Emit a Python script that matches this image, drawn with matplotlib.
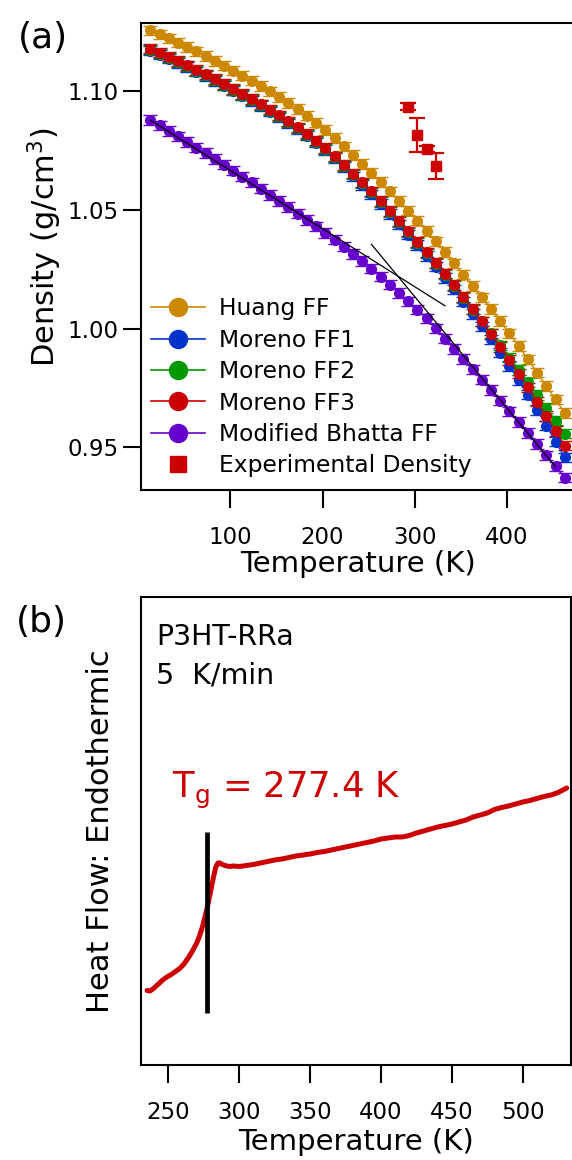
import matplotlib
matplotlib.use("Agg")
import matplotlib.pyplot as plt
from matplotlib.lines import Line2D

# ---- (a) simulated densities vs temperature ----
temperature = [13, 23, 33, 43, 53, 63, 73, 83, 93, 103, 113, 123, 133, 143, 153,
               163, 173, 183, 193, 203, 213, 223, 233, 243, 253, 263, 273, 283, 293,
               303, 313, 323, 333, 343, 353, 363, 373, 383, 393, 403, 413, 423, 433,
               443, 453, 463]

huang = [1.1255, 1.1238, 1.1221, 1.1203, 1.1185, 1.1166, 1.1147, 1.1127, 1.1107, 1.1086,
         1.1065, 1.1043, 1.1021, 1.0998, 1.0974, 1.0949, 1.0923, 1.0896, 1.0867, 1.0835,
         1.0801, 1.0767, 1.0730, 1.0692, 1.0654, 1.0616, 1.0577, 1.0537, 1.0496, 1.0454,
         1.0411, 1.0367, 1.0322, 1.0275, 1.0227, 1.0179, 1.0131, 1.0082, 1.0032, 0.9980,
         0.9926, 0.9871, 0.9815, 0.9759, 0.9702, 0.9645]

moreno_ff1 = [1.1170, 1.1153, 1.1136, 1.1118, 1.1100, 1.1081, 1.1062, 1.1042, 1.1022, 1.1001,
              1.0980, 1.0958, 1.0936, 1.0913, 1.0889, 1.0864, 1.0839, 1.0812, 1.0783, 1.0751,
              1.0717, 1.0679, 1.0641, 1.0604, 1.0565, 1.0525, 1.0482, 1.0439, 1.0395, 1.0351,
              1.0306, 1.0261, 1.0214, 1.0165, 1.0114, 1.0062, 1.0009, 0.9955, 0.9899, 0.9842,
              0.9783, 0.9722, 0.9658, 0.9592, 0.9525, 0.9458]

moreno_ff2 = [1.1174, 1.1157, 1.1140, 1.1122, 1.1104, 1.1085, 1.1066, 1.1046, 1.1026, 1.1005,
              1.0984, 1.0962, 1.0940, 1.0917, 1.0893, 1.0868, 1.0843, 1.0816, 1.0787, 1.0755,
              1.0721, 1.0685, 1.0648, 1.0611, 1.0573, 1.0533, 1.0491, 1.0448, 1.0405, 1.0361,
              1.0317, 1.0273, 1.0227, 1.0179, 1.0129, 1.0080, 1.0030, 0.9980, 0.9929, 0.9878,
              0.9826, 0.9774, 0.9721, 0.9667, 0.9613, 0.9558]

moreno_ff3 = [1.1178, 1.1161, 1.1144, 1.1126, 1.1108, 1.1089, 1.1070, 1.1050, 1.1030, 1.1009,
              1.0988, 1.0966, 1.0944, 1.0921, 1.0897, 1.0872, 1.0847, 1.0820, 1.0791, 1.0759,
              1.0725, 1.0689, 1.0652, 1.0615, 1.0577, 1.0537, 1.0495, 1.0452, 1.0409, 1.0365,
              1.0321, 1.0277, 1.0231, 1.0183, 1.0133, 1.0082, 1.0030, 0.9977, 0.9923, 0.9868,
              0.9811, 0.9753, 0.9693, 0.9632, 0.9570, 0.9508]

mod_bhatta = [1.0878, 1.0855, 1.0832, 1.0809, 1.0785, 1.0762, 1.0738, 1.0714, 1.0690, 1.0665,
              1.0640, 1.0615, 1.0589, 1.0563, 1.0537, 1.0511, 1.0484, 1.0457, 1.0430, 1.0402,
              1.0374, 1.0345, 1.0315, 1.0284, 1.0252, 1.0219, 1.0185, 1.0150, 1.0115, 1.0080,
              1.0043, 1.0001, 0.9958, 0.9915, 0.9872, 0.9829, 0.9785, 0.9741, 0.9697, 0.9652,
              0.9607, 0.9561, 0.9514, 0.9467, 0.9420, 0.9373]

sim_err = 0.002

exp_temperature = [293, 303, 313, 323]
exp_density = [1.0933, 1.0815, 1.0756, 1.0684]
exp_err = [0.0015, 0.0070, 0.0012, 0.0053]

# linear fits below / above the glass transition (Bhatta FF)
glass_fit_T = [13, 333]
glass_fit_density = [1.0877, 1.0096]
melt_fit_T = [253, 453]
melt_fit_density = [1.0355, 0.9419]

# ---- (b) DSC heating trace ----
dsc_T = [235, 237, 240, 243, 246, 249, 252, 255, 258, 261, 264, 267, 270, 272, 274,
         276, 278, 280, 282, 283.5, 285, 286.5, 288, 290, 293, 296, 300, 305, 310,
         315, 320, 325, 330, 335, 340, 345, 350, 355, 360, 365, 370, 375, 380, 385,
         390, 395, 400, 405, 410, 415, 420, 425, 430, 435, 440, 445, 450, 455, 460,
         465, 470, 475, 480, 485, 490, 495, 500, 505, 510, 515, 520, 525, 531]
dsc_heat_flow = [0.745, 0.74, 0.77, 0.81, 0.85, 0.88, 0.905, 0.935, 0.965, 1.01, 1.07, 1.14,
                 1.22, 1.29, 1.38, 1.49, 1.61, 1.75, 1.89, 1.98, 2.02, 2.02, 2.005, 1.995,
                 1.985, 1.99, 1.985, 1.995, 2.005, 2.02, 2.035, 2.05, 2.06, 2.075, 2.09,
                 2.10, 2.11, 2.125, 2.135, 2.15, 2.165, 2.18, 2.195, 2.21, 2.225, 2.24,
                 2.26, 2.27, 2.28, 2.28, 2.295, 2.32, 2.34, 2.36, 2.38, 2.395, 2.41, 2.43,
                 2.45, 2.48, 2.50, 2.52, 2.555, 2.575, 2.59, 2.61, 2.63, 2.645, 2.665,
                 2.685, 2.70, 2.725, 2.77]
tg = 277.4
tg_bar = [0.52, 2.33]

series = [
    ("Huang FF", huang, "#CC8800"),
    ("Moreno FF1", moreno_ff1, "#0033CC"),
    ("Moreno FF2", moreno_ff2, "#009900"),
    ("Moreno FF3", moreno_ff3, "#CC0000"),
    ("Modified Bhatta FF", mod_bhatta, "#6600CC"),
]
exp_color = "#CC0000"

plt.rcParams["font.family"] = "DejaVu Sans"
fig = plt.figure(figsize=(5.72, 11.6), dpi=100)

W, H = 572.0, 1160.0
ax1 = fig.add_axes([141 / W, 1 - 490 / H, (580 - 141) / W, (490 - 22.5) / H])
ax2 = fig.add_axes([141 / W, 1 - 1065 / H, (570.5 - 141) / W, (1065 - 596.7) / H])

handles = []
for name, dens, col in series:
    ax1.errorbar(temperature, dens, yerr=sim_err, color=col, ecolor=col,
                 elinewidth=1.0, capsize=5, capthick=1.0, marker="o", markersize=7,
                 linewidth=1.0, zorder=2)
    handles.append(Line2D([], [], color=col, marker="o", markersize=13,
                          linewidth=1.2, label=name))

ax1.errorbar(exp_temperature, exp_density, yerr=exp_err, color=exp_color, marker="s",
             markersize=7.5, linestyle="none", elinewidth=1.6, capsize=5.5,
             capthick=1.6, zorder=4)
handles.append(Line2D([], [], color=exp_color, marker="s", markersize=12,
                      linestyle="none", label="Experimental Density"))

ax1.plot(glass_fit_T, glass_fit_density, color="black", linewidth=0.9, zorder=5)
ax1.plot(melt_fit_T, melt_fit_density, color="black", linewidth=0.9, zorder=5)

ax1.set_xlim(2.8, 479.6)
ax1.set_ylim(0.9321, 1.1288)
ax1.set_xticks([100, 200, 300, 400])
ax1.set_yticks([0.95, 1.00, 1.05, 1.10])
ax1.set_yticklabels(["0.95", "1.00", "1.05", "1.10"])
ax1.spines["right"].set_visible(False)
ax1.set_xlabel("Temperature (K)", fontsize=21)
ax1.set_ylabel("Density (g/cm$^{3}$)", fontsize=22)
ax1.xaxis.set_label_coords(0.495, -0.128)
ax1.yaxis.set_label_coords(-0.175, 0.52)

ax1.legend(handles=handles, loc="upper left", bbox_to_anchor=(0.023, 0.412),
           frameon=False, fontsize=16.8, handlelength=2.3, handletextpad=0.6,
           labelspacing=0.36, borderaxespad=0, borderpad=0)

# DSC panel
ax2.plot(dsc_T, dsc_heat_flow, color="#CC0000", linewidth=3.6, solid_capstyle="round")
ax2.vlines(tg, tg_bar[0], tg_bar[1], color="black", linewidth=3.4)
ax2.text(252.4, 2.667, r"T$_\mathregular{g}$ = 277.4 K", color="#CC0000",
         fontsize=25.5, ha="left", va="baseline")
ax2.text(241.3, 4.20, "P3HT-RRa", fontsize=20.5, ha="left", va="baseline")
ax2.text(241.3, 3.82, "5  K/min", fontsize=20.5, ha="left", va="baseline")

ax2.set_xlim(230.7, 533.7)
ax2.set_ylim(0, 4.683)
ax2.set_xticks([250, 300, 350, 400, 450, 500])
ax2.set_yticks([])
ax2.set_xlabel("Temperature (K)", fontsize=21)
ax2.set_ylabel("Heat Flow: Endothermic", fontsize=22)
ax2.xaxis.set_label_coords(0.5, -0.135)
ax2.yaxis.set_label_coords(-0.06, 0.5)

for ax in (ax1, ax2):
    for sp in ax.spines.values():
        sp.set_linewidth(1.5)
    ax.tick_params(direction="out", length=13, width=1.5, labelsize=16.5)
    ax.tick_params(axis="x", pad=13)
    ax.tick_params(axis="y", pad=3)

fig.text(43 / W, 1 - 38 / H, "(a)", fontsize=26, ha="center", va="center")
fig.text(41 / W, 1 - 622 / H, "(b)", fontsize=26, ha="center", va="center")

fig.savefig("out.png", dpi=100)
